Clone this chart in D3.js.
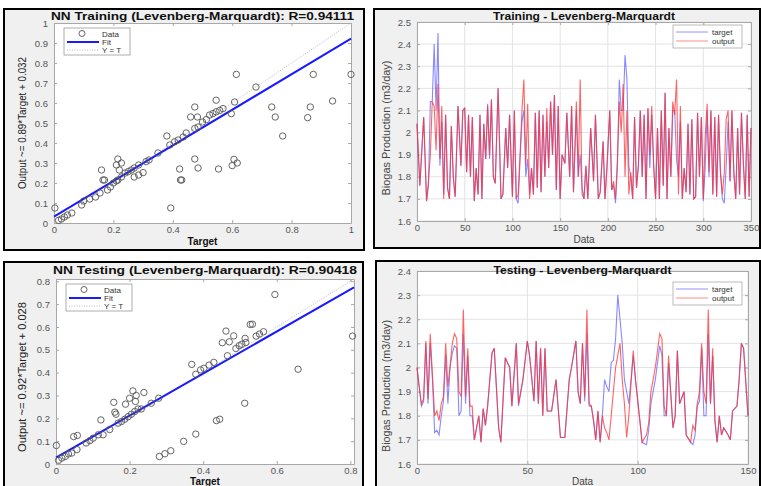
<!DOCTYPE html>
<html>
<head>
<meta charset="utf-8">
<script src="https://cdnjs.cloudflare.com/ajax/libs/d3/7.8.5/d3.min.js"></script>
<style>
body { margin: 0; background: #fff; }
svg { display: block; font-family: "Liberation Sans", Arial, sans-serif; }
</style>
</head>
<body>
<svg class="chart"></svg>
<script>
// regression scatter, training set (target, output)
const trainT = [0.003,0.015,0.025,0.035,0.045,0.06,0.093,0.10,0.12,0.14,0.155,0.165,0.16,0.17,0.18,0.19,0.20,0.21,0.215,
    0.21,0.215,0.227,0.22,0.227,0.24,0.25,0.26,0.27,0.285,0.27,0.285,0.30,0.31,0.32,0.35,0.38,0.39,0.393,
    0.406,0.418,0.435,0.445,0.423,0.426,0.43,0.46,0.474,0.483,0.474,0.485,0.474,0.485,0.50,0.513,0.524,0.535,
    0.546,0.558,0.569,0.546,0.554,0.597,0.60,0.606,0.617,0.608,0.614,0.68,0.733,0.745,0.77,0.854,0.863,0.873,0.938,1.0];
const trainO = [0.075,0.013,0.02,0.03,0.04,0.05,0.09,0.11,0.12,0.13,0.15,0.215,0.265,0.215,0.165,0.18,0.20,0.21,0.215,
    0.29,0.32,0.30,0.265,0.23,0.25,0.257,0.265,0.275,0.29,0.23,0.24,0.252,0.307,0.315,0.35,0.435,0.39,0.075,
    0.406,0.415,0.43,0.45,0.27,0.215,0.215,0.53,0.58,0.53,0.473,0.48,0.32,0.275,0.505,0.517,0.54,0.547,
    0.556,0.563,0.572,0.614,0.27,0.547,0.287,0.318,0.30,0.605,0.743,0.68,0.58,0.53,0.435,0.527,0.58,0.743,0.61,0.743];

// regression scatter, testing set
const testT = [0.001,0.007,0.016,0.025,0.034,0.043,0.048,0.058,0.057,0.082,0.092,0.101,0.115,0.122,0.128,0.146,0.157,0.16,0.163,
    0.169,0.178,0.187,0.196,0.205,0.214,0.223,0.189,0.20,0.209,0.218,0.216,0.239,0.232,0.259,0.279,0.281,0.296,0.312,
    0.347,0.38,0.369,0.38,0.393,0.402,0.416,0.429,0.436,0.445,0.452,0.462,0.471,0.466,0.483,0.489,0.498,0.505,0.516,
    0.513,0.514,0.528,0.534,0.544,0.553,0.564,0.595,0.658,0.806];
const testO = [0.081,0.016,0.026,0.033,0.044,0.048,0.12,0.125,0.063,0.092,0.102,0.113,0.128,0.193,0.128,0.151,0.27,0.227,0.218,
    0.179,0.186,0.196,0.207,0.218,0.23,0.241,0.262,0.288,0.32,0.30,0.274,0.313,0.241,0.266,0.288,0.033,0.045,0.058,
    0.099,0.131,0.436,0.393,0.412,0.419,0.433,0.445,0.19,0.196,0.531,0.582,0.535,0.474,0.561,0.506,0.518,0.524,0.532,
    0.266,0.55,0.611,0.612,0.56,0.569,0.579,0.742,0.415,0.56];

// linear fit: slope, intercept
const trainFit = [0.89, 0.032];
const testFit = [0.92, 0.028];

// training time series (biogas m3/day)
const trainIdx = [0,3,7,10,12,14,16,18,20,22,24,26,28,30,32,34,36,38,40,43,46,48,50,52,54,56,58,60,62,64,66,68,70,72,74,76,78,80,82,85,
    88,90,93,95,97,100,102,104,106,108,110,112,114,116,118,120,122,124,126,128,130,132,134,136,138,140,142,144,146,148,150,152,155,157,
    160,162,164,167,169,171,173,175,177,179,182,185,187,190,192,195,197,199,202,204,206,208,210,212,214,216,218,220,222,224,226,228,230,
    232,234,236,238,240,242,244,246,248,250,252,254,256,258,260,262,264,266,268,270,272,274,276,278,280,282,284,286,288,290,292,294,296,
    298,300,302,304,306,308,310,312,314,316,318,320,322,324,326,328,330,332,334,336,338,340,342,344,346,348,350];
const trainOutput = [2.04,1.76,2.07,1.69,1.78,1.90,2.14,2.12,1.92,2.22,1.88,2.12,1.70,2.08,1.75,1.70,2.03,1.80,1.71,2.12,1.85,2.10,2.11,1.82,
    2.08,1.80,2.07,1.69,1.84,1.72,2.08,1.70,2.04,1.88,2.12,1.90,2.15,1.80,1.77,2.20,1.70,1.72,2.02,1.84,2.08,1.71,2.10,1.70,1.72,1.90,
    2.10,2.24,1.85,2.13,1.70,1.84,1.72,2.09,1.75,2.10,1.73,2.08,1.80,2.11,1.84,2.14,1.90,2.17,1.74,2.12,1.70,1.90,1.86,2.09,1.80,2.12,
    1.73,2.14,1.80,2.24,1.72,1.70,1.85,1.70,2.02,1.78,2.08,1.70,1.73,1.96,1.70,1.84,2.10,1.74,1.78,1.70,1.88,2.14,2.00,2.22,1.80,2.10,
    1.72,1.82,1.70,2.07,1.75,1.85,2.10,1.80,2.08,1.70,2.11,1.90,2.12,1.85,1.70,2.02,1.70,2.10,1.76,2.18,1.70,2.02,1.80,2.14,2.08,2.24,
    1.72,2.12,1.70,1.84,1.73,2.04,1.72,2.06,1.70,1.71,2.09,1.80,2.07,1.70,1.98,2.13,1.82,2.10,1.72,2.07,1.71,2.08,1.82,1.72,1.82,2.06,
    2.10,1.78,2.10,1.82,1.70,2.02,1.72,2.09,1.86,1.70,2.08,1.71,2.02];
const trainTarget = [2.04,1.76,2.07,1.69,1.76,2.14,2.14,2.40,2.10,2.45,1.85,2.05,1.72,2.08,1.75,1.70,2.03,1.80,1.71,2.12,1.85,2.10,2.11,1.82,
    2.08,1.80,2.07,1.69,1.84,1.72,2.08,1.70,2.04,1.88,2.13,1.88,2.15,1.80,1.77,2.20,1.70,1.72,2.02,1.84,2.08,1.71,2.10,1.70,1.68,1.88,
    2.05,2.10,1.80,1.88,1.72,1.84,1.72,2.09,1.75,2.10,1.73,2.08,1.80,2.05,1.84,2.14,1.90,2.17,1.74,2.12,1.70,1.90,1.86,2.09,1.80,2.12,
    1.73,2.10,1.80,1.90,1.75,1.70,1.85,1.70,2.02,1.78,2.08,1.70,1.73,1.96,1.70,1.84,2.10,1.74,1.76,1.68,1.84,2.24,2.10,2.10,2.35,2.24,
    1.85,1.80,1.70,2.07,1.75,1.85,2.10,1.80,2.08,1.70,2.11,1.84,2.08,1.85,1.70,2.02,1.70,2.10,1.76,2.18,1.70,2.02,1.80,2.10,2.10,1.88,
    1.80,2.05,1.70,1.84,1.73,2.04,1.72,2.06,1.70,1.71,2.09,1.80,2.07,1.69,1.84,2.10,1.80,2.10,1.72,2.07,1.71,2.08,1.82,1.70,1.68,1.85,
    2.05,1.78,2.10,1.82,1.70,2.02,1.72,2.09,1.86,1.70,2.08,1.71,2.02];

// testing time series
const testIdx = [0,1,2,3,4,5,6,7,8,9,10,11,12,13,14,15,16,17,18,19,20,21,22,23,24,25,26,27,28,29,30,31,32,34,35,37,38,40,42,43,45,46,48,
    50,51,53,54,55,56,57,58,59,61,63,65,67,69,70,72,73,74,75,76,77,78,79,80,81,82,83,84,85,86,87,88,89,90,91,92,93,94,95,96,98,99,101,102,
    104,105,106,108,110,111,112,113,114,116,117,118,119,121,122,124,125,126,127,128,129,130,131,132,133,134,135,136,137,138,139,141,142,
    143,145,146,147,148,150];
const testOutput = [2.00,1.92,1.85,1.87,2.11,1.87,2.14,1.97,1.80,1.82,1.78,1.85,1.88,2.10,1.92,2.01,2.10,2.14,2.12,1.90,1.88,2.24,1.88,2.08,
    1.84,1.84,1.70,1.75,1.80,1.69,1.83,1.76,1.84,2.06,2.08,1.75,1.69,2.04,2.00,1.84,2.10,1.85,1.95,2.11,2.05,1.86,2.11,1.85,2.08,1.80,
    2.08,1.82,1.82,1.95,1.71,1.71,1.95,2.00,2.11,1.90,1.85,2.10,1.88,2.24,1.85,1.84,1.78,1.70,1.82,1.69,1.80,1.75,1.73,1.70,1.80,1.90,
    2.00,2.05,2.10,1.95,1.85,1.71,1.80,2.07,1.95,1.78,1.69,1.72,1.77,1.90,2.00,2.14,2.12,1.84,1.80,2.05,1.75,1.80,2.07,1.85,1.90,1.72,
    1.69,1.76,1.74,1.85,1.90,2.10,1.90,1.85,2.24,1.85,2.08,1.78,1.69,1.80,1.72,1.75,1.72,1.70,1.82,1.84,1.95,2.10,2.08,1.80];
const testTarget = [2.00,1.92,1.84,1.86,2.10,1.85,2.10,1.95,1.73,1.74,1.72,1.80,1.86,2.05,1.85,2.00,2.06,2.09,2.08,1.80,1.82,2.14,1.85,2.05,
    1.80,1.80,1.70,1.75,1.80,1.69,1.83,1.76,1.84,2.06,2.08,1.75,1.69,2.04,2.00,1.84,2.10,1.84,1.95,2.11,2.05,1.86,2.11,1.85,2.08,1.80,
    2.08,1.82,1.82,1.95,1.71,1.71,1.95,2.00,2.11,1.90,1.85,2.10,1.86,2.14,1.84,1.84,1.78,1.70,1.82,1.69,1.80,1.95,1.92,1.90,2.02,2.03,
    2.12,2.30,2.20,2.10,1.95,1.90,1.85,2.05,1.95,1.78,1.69,1.68,1.74,1.85,1.95,2.09,2.05,1.80,1.80,2.02,1.75,1.80,2.07,1.85,1.90,1.72,
    1.69,1.68,1.72,1.84,1.86,2.08,1.80,1.80,2.14,1.85,2.05,1.78,1.69,1.80,1.72,1.75,1.72,1.70,1.82,1.84,1.95,2.10,2.08,1.80];

const regTicks = [0, 0.1, 0.2, 0.3, 0.4, 0.5, 0.6, 0.7, 0.8, 0.9, 1];
const regXTicks = [0, 0.2, 0.4, 0.6, 0.8, 1];
const trainYTicks = [1.6, 1.7, 1.8, 1.9, 2, 2.1, 2.2, 2.3, 2.4, 2.5];
const testYTicks = [1.6, 1.7, 1.8, 1.9, 2, 2.1, 2.2, 2.3, 2.4];

const canvas = {width: 761, height: 486};
const fmt = d3.format("~g");
const blue = "#3a3aff", red = "#ff3030";

const svg = d3.select(".chart")
    .attr("width", canvas.width)
    .attr("height", canvas.height);

function drawFrame(f, p) {
    svg.append("rect")
        .attr("x", f[0]).attr("y", f[1]).attr("width", f[2]).attr("height", f[3])
        .attr("fill", "#f0f0f0").attr("stroke", "#000").attr("stroke-width", 2);
    svg.append("rect")
        .attr("x", p[0]).attr("y", p[1]).attr("width", p[2] - p[0]).attr("height", p[3] - p[1])
        .attr("fill", "#fff");
}

function drawAxes(p, x, y, xt, yt, grid) {
    const g = svg.append("g");
    if (grid) {
        g.selectAll(".gx").data(xt).enter().append("line")
            .attr("x1", d => x(d)).attr("x2", d => x(d)).attr("y1", p[1]).attr("y2", p[3])
            .attr("stroke", "#e3e3e3").attr("stroke-width", 1);
        g.selectAll(".gy").data(yt).enter().append("line")
            .attr("x1", p[0]).attr("x2", p[2]).attr("y1", d => y(d)).attr("y2", d => y(d))
            .attr("stroke", "#e3e3e3").attr("stroke-width", 1);
    }
    const axes = [
        [d3.axisBottom(x).tickValues(xt).tickFormat(fmt).tickPadding(3), "translate(0," + p[3] + ")"],
        [d3.axisTop(x).tickValues(xt).tickFormat(""), "translate(0," + p[1] + ")"],
        [d3.axisLeft(y).tickValues(yt).tickFormat(fmt).tickPadding(6), "translate(" + p[0] + ",0)"],
        [d3.axisRight(y).tickValues(yt).tickFormat(""), "translate(" + p[2] + ",0)"]
    ];
    axes.forEach(function (a) {
        const ax = g.append("g").attr("transform", a[1])
            .call(a[0].tickSizeInner(-3).tickSizeOuter(0));
        ax.select(".domain").attr("stroke", "#a8a8a8");
        ax.selectAll(".tick line").attr("stroke", "#a8a8a8");
        ax.selectAll(".tick text").attr("fill", "#555").attr("font-size", 9.5);
    });
    return g;
}

function addText(txt, x, y, size, weight, len, rotate, color) {
    const t = svg.append("text")
        .attr("text-anchor", "middle")
        .attr("font-size", size)
        .attr("font-weight", weight)
        .attr("fill", color || "#111")
        .text(txt);
    if (len) t.attr("textLength", len).attr("lengthAdjust", "spacingAndGlyphs");
    if (rotate) t.attr("transform", "translate(" + x + "," + y + ") rotate(-90)");
    else t.attr("x", x).attr("y", y);
    return t;
}

function regressionPanel(f, p, xs, ys, fit, maxV, xt, yt, title, ylab, lab) {
    drawFrame(f, p);
    const x = d3.scaleLinear().domain([0, maxV]).range([p[0], p[2]]);
    const y = d3.scaleLinear().domain([0, maxV]).range([p[3], p[1]]);
    drawAxes(p, x, y, xt, yt, false);

    // Y = T reference
    svg.append("line")
        .attr("x1", x(0)).attr("y1", y(0)).attr("x2", x(maxV)).attr("y2", y(maxV))
        .attr("stroke", "#bbb").attr("stroke-width", 1).attr("stroke-dasharray", "1,1.5");
    // fit line
    svg.append("line")
        .attr("x1", x(0)).attr("y1", y(fit[1])).attr("x2", x(maxV)).attr("y2", y(fit[0] * maxV + fit[1]))
        .attr("stroke", "#1a1aff").attr("stroke-width", 2);

    svg.append("g").selectAll("circle")
        .data(xs.map((d, i) => [d, ys[i]]))
        .enter().append("circle")
        .attr("cx", d => x(d[0])).attr("cy", d => y(d[1])).attr("r", 3.2)
        .attr("fill", "none").attr("stroke", "#555").attr("stroke-width", 0.9);

    // legend
    const lg = svg.append("g").attr("transform", "translate(" + (p[0] + 10) + "," + (p[1] + 5) + ")");
    lg.append("rect").attr("width", 66).attr("height", 27).attr("fill", "#fff").attr("stroke", "#999").attr("stroke-width", 0.8);
    lg.append("circle").attr("cx", 18).attr("cy", 5.5).attr("r", 3).attr("fill", "none").attr("stroke", "#555").attr("stroke-width", 0.9);
    lg.append("line").attr("x1", 3).attr("x2", 35).attr("y1", 14).attr("y2", 14).attr("stroke", "#1a1aff").attr("stroke-width", 2);
    lg.append("line").attr("x1", 3).attr("x2", 35).attr("y1", 22).attr("y2", 22).attr("stroke", "#bbb").attr("stroke-dasharray", "1,1.5");
    ["Data", "Fit", "Y = T"].forEach(function (t, i) {
        lg.append("text").attr("x", 38).attr("y", 8.5 + i * 8.3).attr("font-size", 8).attr("fill", "#333").text(t);
    });

    addText(title, (p[0] + p[2]) / 2, lab[4], 11.5, "bold", p[2] - p[0] + 6);
    addText(ylab, lab[0], lab[1], 10.5, "normal", lab[2], true, "#222");
    addText("Target", (p[0] + p[2]) / 2, lab[3], 10, "bold");
}

function seriesPanel(f, p, idx, target, output, maxX, xt, yt, title, lab) {
    drawFrame(f, p);
    const x = d3.scaleLinear().domain([0, maxX]).range([p[0], p[2]]);
    const y = d3.scaleLinear().domain([1.6, yt[yt.length - 1]]).range([p[3], p[1]]);
    drawAxes(p, x, y, xt, yt, true);

    const line = d3.line().x(d => x(d[0])).y(d => y(d[1]));
    svg.append("path").datum(idx.map((d, i) => [d, target[i]]))
        .attr("d", line).attr("fill", "none").attr("stroke", blue).attr("stroke-opacity", 0.6).attr("stroke-width", 1.1);
    svg.append("path").datum(idx.map((d, i) => [d, output[i]]))
        .attr("d", line).attr("fill", "none").attr("stroke", red).attr("stroke-opacity", 0.75).attr("stroke-width", 1.1);

    const lg = svg.append("g").attr("transform", "translate(" + lab[4] + "," + lab[5] + ")");
    lg.append("rect").attr("width", 69).attr("height", 23).attr("fill", "#fff").attr("stroke", "#aaa").attr("stroke-width", 0.8);
    lg.append("line").attr("x1", 3).attr("x2", 35).attr("y1", 7).attr("y2", 7).attr("stroke", blue).attr("stroke-opacity", 0.55);
    lg.append("line").attr("x1", 3).attr("x2", 35).attr("y1", 16).attr("y2", 16).attr("stroke", red).attr("stroke-opacity", 0.55);
    ["target", "output"].forEach(function (t, i) {
        lg.append("text").attr("x", 39).attr("y", 10 + i * 9).attr("font-size", 8).attr("fill", "#333").text(t);
    });

    addText(title, (p[0] + p[2]) / 2, lab[7], 10, "bold", lab[6]);
    addText("Biogas Production (m3/day)", lab[0], lab[1], 10, "normal", lab[2], true, "#444");
    addText("Data", (p[0] + p[2]) / 2, lab[3], 10, "normal", null, false, "#444");
}

regressionPanel([4, 9, 360, 241], [54, 23, 351, 223], trainT, trainO, trainFit, 1, regXTicks, regTicks,
    "NN Training (Levenberg-Marquardt): R=0.94111", "Output ~= 0.89*Target + 0.032", [26, 123, 132, 245, 20]);
seriesPanel([374, 9, 386, 239], [417, 22, 751, 221], trainIdx, trainTarget, trainOutput, 350,
    [0, 50, 100, 150, 200, 250, 300, 350], trainYTicks, "Training - Levenberg-Marquardt", [390, 128, 135, 243, 673, 25, 182, 20]);
regressionPanel([4, 262, 359, 240], [56, 279, 354, 464], testT, testO, testFit, 0.81, [0, 0.2, 0.4, 0.6, 0.8], regTicks.slice(0, 9),
    "NN Testing (Levenberg-Marquardt): R=0.90418", "Output ~= 0.92*Target + 0.028", [26, 377, 150, 485, 274]);
seriesPanel([376, 261, 384, 240], [417, 271, 748, 464], testIdx, testTarget, testOutput, 150,
    [0, 50, 100, 150], testYTicks, "Testing - Levenberg-Marquardt", [390, 386, 132, 485, 673, 282, 178, 274]);
</script>
</body>
</html>
